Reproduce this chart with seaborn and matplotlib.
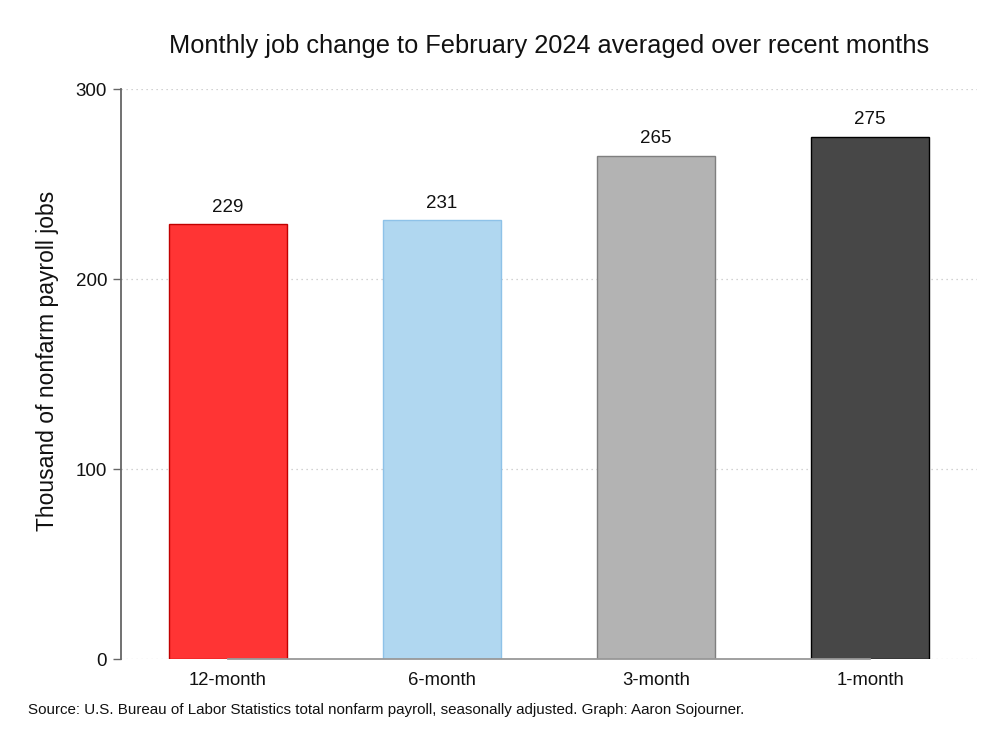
import matplotlib
matplotlib.use("Agg")
import matplotlib.pyplot as plt
import seaborn as sns
import pandas as pd

categories = ["12-month", "6-month", "3-month", "1-month"]
values = [229, 231, 265, 275]
y_ticks = [0, 100, 200, 300]
fill_colors = ["#FF3434", "#B0D7F0", "#B3B3B3", "#474747"]
edge_colors = ["#C00000", "#8EC2E8", "#7F7F7F", "#000000"]

title = "Monthly job change to February 2024 averaged over recent months"
ylabel = "Thousand of nonfarm payroll jobs"
source = "Source: U.S. Bureau of Labor Statistics total nonfarm payroll, seasonally adjusted. Graph: Aaron Sojourner."

sns.set_theme(style="white")
plt.rcParams["font.family"] = ["Liberation Sans", "DejaVu Sans"]

df = pd.DataFrame({"period": categories, "value": values})

fig = plt.figure(figsize=(10, 7.5), dpi=100)
ax = fig.add_axes([0.121, 0.1213, 0.856, 0.7597])

sns.barplot(data=df, x="period", y="value", hue="period", palette=fill_colors,
            legend=False, width=0.555, ax=ax, saturation=1, zorder=3)
for patch, ec in zip(ax.patches, edge_colors):
    patch.set_edgecolor(ec)
    patch.set_linewidth(1.0)

for i, v in enumerate(values):
    ax.annotate(f"{v}", (i, v), xytext=(0, 6), textcoords="offset points",
                ha="center", va="bottom", fontsize=13.5, color="#111111")

ax.set_ylim(0, 300)
ax.set_xlim(-0.5, 3.5)
ax.set_yticks(y_ticks)
ax.set_yticklabels([str(t) for t in y_ticks], fontsize=13.5, color="#111111")
ax.tick_params(axis="y", which="major", left=True, length=6, width=1, color="#666666", pad=4)
ax.tick_params(axis="x", which="major", bottom=False, labelsize=13.3, labelcolor="#111111", pad=3)

for t in y_ticks:
    ax.axhline(t, color="#C4C4C4", linestyle=(0, (1, 3)), linewidth=0.9, zorder=1)

for s in ["top", "right"]:
    ax.spines[s].set_visible(False)
ax.spines["left"].set_color("#666666")
ax.spines["left"].set_linewidth(1.3)
ax.spines["bottom"].set_color("#999999")
ax.spines["bottom"].set_linewidth(1.3)
ax.spines["bottom"].set_bounds(0, 3)
ax.spines["bottom"].set_zorder(4)

ax.set_xlabel("")
ax.set_ylabel(ylabel, fontsize=16.5, color="#111111")
ax.yaxis.set_label_coords(-0.073, 0.523)

fig.text(0.549, 0.938, title, ha="center", va="center", fontsize=18.3, color="#111111")
fig.text(0.028, 0.053, source, ha="left", va="center", fontsize=10.9, color="#111111")

fig.savefig("out.png", dpi=100, facecolor="white")
